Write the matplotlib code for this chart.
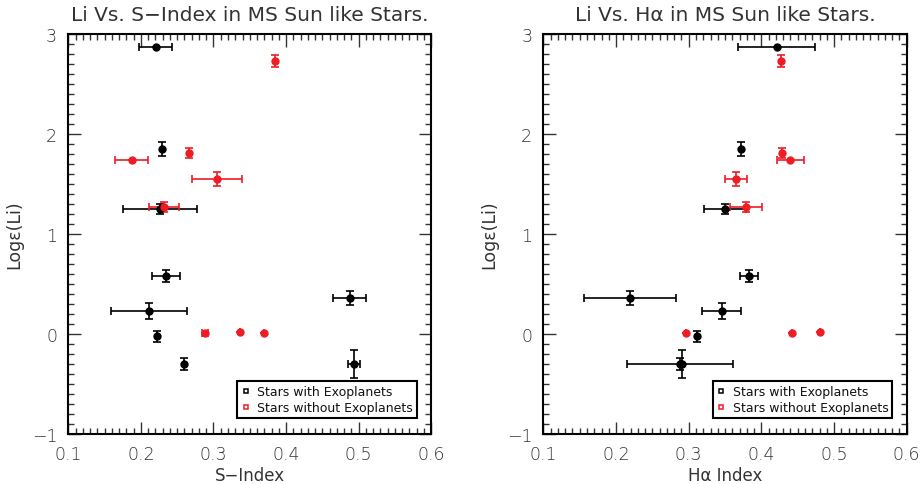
import matplotlib
matplotlib.use("Agg")
import matplotlib.pyplot as plt
from matplotlib.ticker import MultipleLocator
from matplotlib.lines import Line2D

# ---- data: stars with exoplanets (black) ----
li_exo = [2.87, 1.847, 1.25, 0.583, 0.23, 0.357, -0.023, -0.30, -0.30]
li_exo_err = [0.0, 0.068, 0.05, 0.06, 0.08, 0.07, 0.055, 0.057, 0.143]
s_exo = [0.2205, 0.2288, 0.2265, 0.2348, 0.2113, 0.4876, 0.2228, 0.2587, 0.4937]
s_exo_err = [0.023, 0.0, 0.051, 0.019, 0.052, 0.023, 0.0, 0.0, 0.0087]
ha_exo = [0.421, 0.3718, 0.3498, 0.3825, 0.3453, 0.2193, 0.3112, 0.2883, 0.2902]
ha_exo_err = [0.053, 0.0, 0.029, 0.0124, 0.0264, 0.0635, 0.0, 0.0729, 0.0]

# ---- data: stars without exoplanets (red) ----
li_noexo = [2.73, 1.813, 1.737, 1.547, 1.267, 0.01, 0.02, 0.01]
li_noexo_err = [0.063, 0.05, 0.0, 0.07, 0.05, 0.0, 0.0, 0.0]
s_noexo = [0.385, 0.2665, 0.1874, 0.3047, 0.232, 0.2886, 0.3368, 0.37]
s_noexo_err = [0.0, 0.0, 0.0225, 0.034, 0.021, 0.004, 0.0, 0.0]
ha_noexo = [0.4265, 0.429, 0.440, 0.3655, 0.3793, 0.2963, 0.4812, 0.4422]
ha_noexo_err = [0.0, 0.0, 0.018, 0.0153, 0.022, 0.0, 0.0, 0.0]

titles = ["Li Vs. S\u2212Index in MS Sun like Stars.",
          "Li Vs. H\u03b1 in MS Sun like Stars."]
xlabels = ["S\u2212Index", "H\u03b1 Index"]
ylabel = "Log\u03b5(Li)"
legend_labels = ["Stars with Exoplanets", "Stars without Exoplanets"]
xticks = [0.1, 0.2, 0.3, 0.4, 0.5, 0.6]
yticks = [-1, 0, 1, 2, 3]

RED = "#ee1c24"
TXT = "#333333"
plt.rcParams["font.family"] = ["DejaVu Sans"]
plt.rcParams["font.weight"] = "light"

fig = plt.figure(figsize=(9.21, 4.85), dpi=100)
ax1 = fig.add_axes([0.0742, 0.103, 0.394, 0.825])
ax2 = fig.add_axes([0.590, 0.103, 0.3945, 0.825])

panels = [
    (ax1, s_exo, s_exo_err, s_noexo, s_noexo_err),
    (ax2, ha_exo, ha_exo_err, ha_noexo, ha_noexo_err),
]

for i, (ax, xe, xee, xn, xne) in enumerate(panels):
    ax.errorbar(xe, li_exo, xerr=xee, yerr=li_exo_err, fmt="o", color="black",
                ms=5, elinewidth=1.2, capsize=3, capthick=1.2, zorder=3)
    ax.errorbar(xn, li_noexo, xerr=xne, yerr=li_noexo_err, fmt="o", color=RED,
                ms=5, elinewidth=1.2, capsize=3, capthick=1.2, zorder=3)
    ax.set_xlim(0.1, 0.6)
    ax.set_ylim(-1, 3)
    ax.set_xticks(xticks)
    ax.set_xticklabels([f"{t:.1f}" for t in xticks])
    ax.set_yticks(yticks)
    ax.set_yticklabels([str(t).replace("-", "\u2212") for t in yticks])
    ax.xaxis.set_minor_locator(MultipleLocator(0.01))
    ax.yaxis.set_minor_locator(MultipleLocator(0.1))
    ax.tick_params(which="both", direction="in", top=True, right=True,
                   labelsize=12.5, width=1.0, color="#333333", pad=8,
                   labelcolor=TXT)
    ax.tick_params(which="major", length=9)
    ax.tick_params(which="minor", length=4.5)
    for sp in ax.spines.values():
        sp.set_linewidth(1.5)
    ax.set_title(titles[i], fontsize=14.5, pad=10, color=TXT)
    ax.set_xlabel(xlabels[i], fontsize=12, labelpad=2, color=TXT)
    ax.set_ylabel(ylabel, fontsize=12.5, labelpad=6, color=TXT)

    handles = [
        Line2D([], [], ls="none", marker="s", mfc="none", mec="black", ms=3.5, mew=1.1),
        Line2D([], [], ls="none", marker="s", mfc="none", mec=RED, ms=3.5, mew=1.1),
    ]
    leg = ax.legend(handles, legend_labels, loc="lower right",
                    bbox_to_anchor=(0.96, 0.04),
                    prop={"size": 9, "weight": "normal"},
                    frameon=True, fancybox=False, framealpha=1,
                    edgecolor="black", handlelength=0.8, handletextpad=0.5,
                    borderpad=0.3, labelspacing=0.25, borderaxespad=0)
    for t in leg.get_texts():
        t.set_color("#111111")
    leg.get_frame().set_linewidth(1.5)

fig.savefig("out.png", dpi=100)
